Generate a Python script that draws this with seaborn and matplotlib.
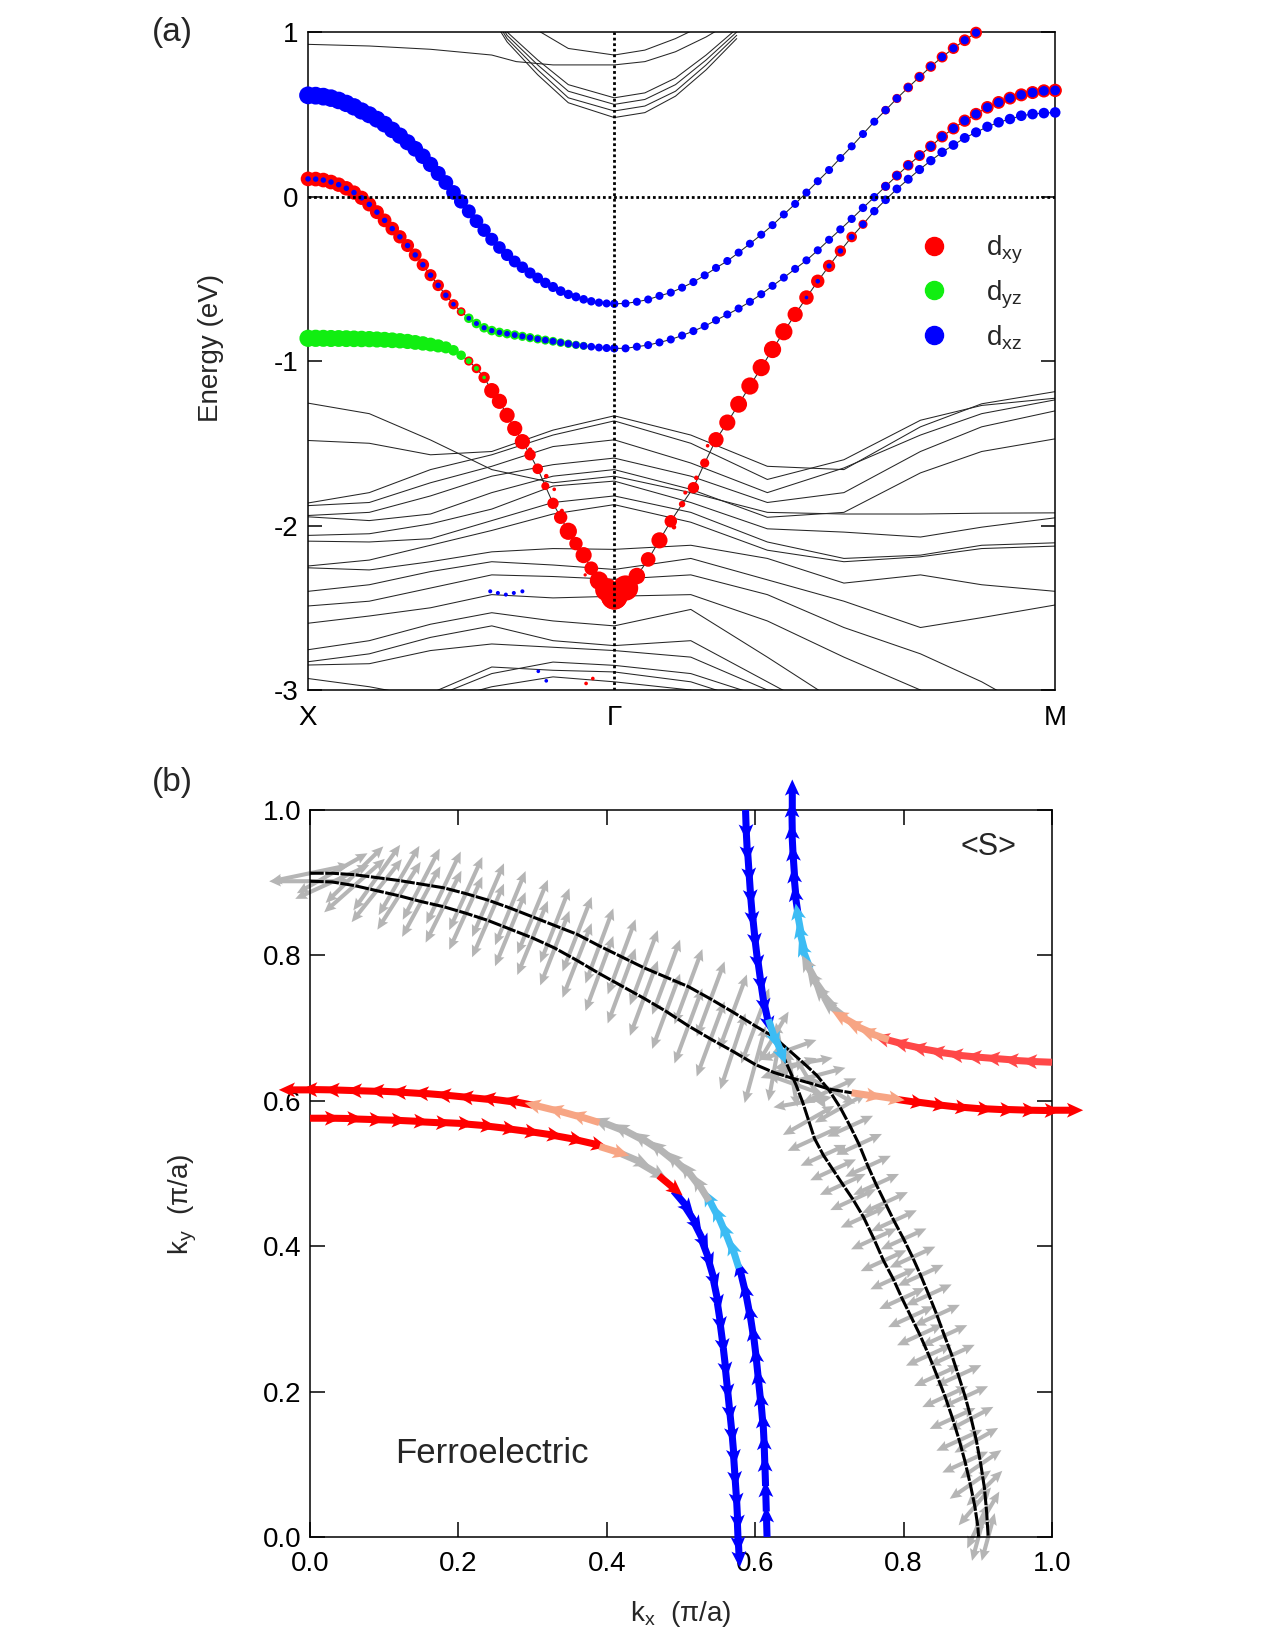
import matplotlib
matplotlib.use("Agg")
import matplotlib.pyplot as plt
from matplotlib.lines import Line2D
import numpy as np
import pandas as pd
import seaborn as sns

sns.set_style("ticks")
plt.rcParams["font.family"] = ["Liberation Sans", "DejaVu Sans"]
plt.rcParams["mathtext.fontset"] = "custom"
plt.rcParams["mathtext.rm"] = "Liberation Sans"
plt.rcParams["mathtext.it"] = "Liberation Sans"
plt.rcParams["axes.unicode_minus"] = False
plt.rcParams["axes.edgecolor"] = "black"
plt.rcParams["axes.linewidth"] = 1.1

# ---------------- panel (a): bands along X - Gamma - M ----------------
# path coordinate: X = 0, Gamma = 1, M = 2.44
K_XG = np.arange(41) / 40.0
K_GM = 1.0 + 1.44 * np.arange(40) / 39.0

# orbital-projected bands (energies in eV)
A_XG = [0.615, 0.613, 0.607, 0.598, 0.584, 0.566, 0.545, 0.520, 0.497, 0.470,
        0.440, 0.405, 0.370, 0.330, 0.290, 0.245, 0.195, 0.140, 0.085, 0.025,
        -0.030, -0.090, -0.150, -0.205, -0.260, -0.310, -0.355, -0.395, -0.430, -0.465,
        -0.495, -0.525, -0.550, -0.575, -0.595, -0.610, -0.625, -0.637, -0.645, -0.650, -0.652]
A_GM = [-0.652, -0.650, -0.640, -0.626, -0.604, -0.584, -0.554, -0.520, -0.479, -0.434,
        -0.392, -0.341, -0.287, -0.232, -0.174, -0.109, -0.045, 0.024, 0.093, 0.161,
        0.234, 0.305, 0.380, 0.455, 0.525, 0.596, 0.663, 0.727, 0.790, 0.848,
        0.901, 0.950, 0.996]
B_XG = [0.107, 0.106, 0.100, 0.088, 0.072, 0.050, 0.024, -0.008, -0.048, -0.095,
        -0.145, -0.195, -0.245, -0.298, -0.355, -0.415, -0.478, -0.540, -0.600, -0.655,
        -0.700, -0.740, -0.772, -0.798, -0.815, -0.826, -0.834, -0.842, -0.850, -0.858,
        -0.866, -0.873, -0.880, -0.888, -0.895, -0.902, -0.908, -0.913, -0.918, -0.921, -0.923]
B_GM = [-0.923, -0.923, -0.913, -0.903, -0.887, -0.869, -0.845, -0.818, -0.788, -0.752,
        -0.717, -0.681, -0.640, -0.594, -0.543, -0.493, -0.440, -0.388, -0.327, -0.263,
        -0.200, -0.136, -0.069, -0.004, 0.062, 0.127, 0.190, 0.249, 0.305, 0.364,
        0.414, 0.461, 0.501, 0.542, 0.572, 0.598, 0.618, 0.632, 0.642, 0.645]
C_XG = [-0.862, -0.862, -0.862, -0.863, -0.863, -0.864, -0.865, -0.866, -0.867, -0.869,
        -0.871, -0.874, -0.877, -0.881, -0.887, -0.893, -0.900, -0.908, -0.917, -0.935,
        -0.965, -1.000, -1.045, -1.100, -1.180, -1.245, -1.330, -1.410, -1.490, -1.570,
        -1.655, -1.760, -1.865, -1.950, -2.035, -2.110, -2.180, -2.260, -2.335, -2.390, -2.430]
C_GM = [-2.430, -2.380, -2.307, -2.206, -2.090, -1.974, -1.870, -1.770, -1.620, -1.478,
        -1.374, -1.263, -1.152, -1.040, -0.930, -0.822, -0.717, -0.614, -0.515, -0.422,
        -0.331, -0.246, -0.169, -0.089, -0.020, 0.046, 0.105, 0.164, 0.218, 0.269,
        0.313, 0.356, 0.390, 0.424, 0.451, 0.471, 0.491, 0.501, 0.507, 0.511]

# orbital weights
A_XG_xz = [0.97, 0.97, 0.97, 0.96, 0.96, 0.95, 0.95, 0.94, 0.93, 0.92,
           0.91, 0.90, 0.89, 0.88, 0.86, 0.85, 0.84, 0.82, 0.81, 0.80,
           0.78, 0.76, 0.75, 0.73, 0.71, 0.69, 0.67, 0.65, 0.63, 0.61,
           0.59, 0.57, 0.55, 0.53, 0.51, 0.49, 0.47, 0.46, 0.45, 0.44, 0.44]
A_GM_xz = [0.44] * 24 + [0.45] * 9
A_GM_xy = [0.0] * 24 + [0.47, 0.50, 0.53, 0.56, 0.58, 0.60, 0.62, 0.64, 0.65]
B_XG_xy = [0.80, 0.80, 0.80, 0.80, 0.79, 0.79, 0.78, 0.78, 0.77, 0.76,
           0.75, 0.74, 0.73, 0.71, 0.70, 0.68, 0.66, 0.63, 0.60, 0.56, 0.48] + [0.0] * 20
B_XG_yz = [0.0] * 20 + [0.30, 0.52, 0.52, 0.52, 0.52, 0.52, 0.51, 0.51, 0.50, 0.50,
                        0.49, 0.49, 0.48, 0.47, 0.46, 0.45, 0.44] + [0.0] * 4
B_XG_xz = [0.30] * 19 + [0.25, 0.0, 0.26, 0.27, 0.28, 0.29, 0.30, 0.31, 0.32, 0.33,
                         0.34, 0.35, 0.36, 0.37, 0.38, 0.39, 0.40, 0.41, 0.42, 0.43,
                         0.44, 0.44]
B_GM_xz = [0.44] * 20 + [0.45, 0.45, 0.46, 0.46, 0.47, 0.47, 0.48, 0.48, 0.49, 0.49,
                         0.50, 0.50, 0.51, 0.51, 0.52, 0.52, 0.52, 0.53, 0.53, 0.53]
B_GM_xy = [0.0] * 24 + [0.50, 0.55, 0.58, 0.60, 0.62, 0.64, 0.66, 0.67, 0.68, 0.69,
                        0.70, 0.70, 0.71, 0.71, 0.72, 0.73]
C_XG_yz = [0.94, 0.94, 0.93, 0.93, 0.92, 0.92, 0.91, 0.90, 0.89, 0.88,
           0.87, 0.86, 0.84, 0.83, 0.81, 0.79, 0.76, 0.72, 0.66, 0.58,
           0.52, 0.33, 0.27, 0.20] + [0.0] * 17
C_XG_xy = [0.0] * 21 + [0.50, 0.52, 0.62, 0.83, 0.83, 0.83, 0.83, 0.83, 0.62, 0.58,
                        0.44, 0.62, 0.73, 0.94, 0.73, 0.88, 0.75, 1.00, 1.25, 1.45]
C_GM_xy = [1.45, 1.38, 0.90, 0.80, 0.88, 0.68, 0.35, 0.62, 0.50, 0.83,
           0.88, 0.92, 0.94, 0.94, 0.94, 0.94, 0.83, 0.79, 0.73, 0.67,
           0.62, 0.58, 0.50] + [0.0] * 17
C_GM_xz = [0.0] * 17 + [0.20, 0.25, 0.28, 0.30, 0.33, 0.40, 0.46, 0.47, 0.48, 0.49,
                        0.50, 0.51, 0.52, 0.53, 0.54, 0.55, 0.56, 0.57, 0.57, 0.58,
                        0.58, 0.58, 0.58]

# small projected weight on other bands
EXTRA_K = [0.725, 0.778, 0.804, 0.829, 0.905, 0.908, 0.930, 1.195, 1.232, 1.268, 1.305,
           0.595, 0.620, 0.646, 0.672, 0.700, 0.752, 0.778]
EXTRA_E = [-1.539, -1.700, -1.780, -1.910, -2.300, -2.960, -2.930, -2.010, -1.800, -1.710, -1.515,
           -2.400, -2.410, -2.420, -2.410, -2.400, -2.886, -2.944]
EXTRA_ORB = ["xy"] * 11 + ["xz"] * 7
EXTRA_W = [0.25, 0.25, 0.20, 0.22, 0.18, 0.20, 0.20, 0.25, 0.22, 0.25, 0.20,
           0.22, 0.22, 0.22, 0.22, 0.22, 0.20, 0.20]

# other (unprojected) bands, given at path nodes
K_NODES = [0.0, 0.2, 0.4, 0.6, 0.8, 1.0, 1.25, 1.5, 1.75, 2.0, 2.2, 2.44]
LOW_BANDS = [
    [-1.256, -1.32, -1.48, -1.66, -1.74, -1.70, -1.80, -1.92, -1.93, -1.93, -1.925, -1.923],
    [-1.483, -1.50, -1.57, -1.55, -1.42, -1.333, -1.45, -1.64, -1.66, -1.40, -1.26, -1.186],
    [-1.863, -1.80, -1.66, -1.57, -1.45, -1.364, -1.50, -1.72, -1.60, -1.36, -1.27, -1.226],
    [-1.879, -1.86, -1.74, -1.64, -1.52, -1.479, -1.62, -1.80, -1.65, -1.45, -1.32, -1.236],
    [-1.939, -1.92, -1.82, -1.70, -1.63, -1.59, -1.70, -1.86, -1.80, -1.55, -1.40, -1.303],
    [-1.947, -1.97, -1.93, -1.80, -1.70, -1.66, -1.78, -1.95, -1.92, -1.68, -1.55, -1.473],
    [-2.060, -2.05, -1.99, -1.90, -1.76, -1.73, -1.86, -2.02, -2.04, -2.07, -2.01, -1.953],
    [-2.095, -2.10, -2.08, -1.97, -1.86, -1.82, -1.92, -2.10, -2.20, -2.18, -2.12, -2.105],
    [-2.246, -2.21, -2.12, -2.03, -1.93, -1.873, -1.98, -2.15, -2.22, -2.19, -2.14, -2.125],
    [-2.257, -2.27, -2.22, -2.16, -2.14, -2.145, -2.12, -2.20, -2.35, -2.30, -2.36, -2.400],
    [-2.400, -2.36, -2.28, -2.22, -2.24, -2.267, -2.20, -2.33, -2.46, -2.62, -2.56, -2.483],
    [-2.489, -2.46, -2.38, -2.30, -2.31, -2.327, -2.30, -2.42, -2.62, -2.78, -2.95, -3.20],
    [-2.594, -2.55, -2.50, -2.42, -2.44, -2.43, -2.42, -2.58, -2.80, -3.00, -3.20, -3.40],
    [-2.755, -2.70, -2.60, -2.53, -2.58, -2.61, -2.51, -2.80, -3.10, -3.30, -3.40, -3.40],
    [-2.828, -2.78, -2.68, -2.61, -2.70, -2.73, -2.70, -2.95, -3.20, -3.40, -3.40, -3.40],
    [-2.848, -2.84, -2.76, -2.72, -2.74, -2.76, -2.80, -3.00, -3.25, -3.40, -3.40, -3.40],
    [-2.930, -2.98, -3.05, -2.90, -2.83, -2.85, -2.90, -3.05, -3.30, -3.40, -3.40, -3.40],
    [-3.100, -3.10, -3.02, -2.86, -2.88, -2.89, -2.95, -3.10, -3.30, -3.40, -3.40, -3.40],
    [-3.200, -3.15, -3.08, -2.98, -2.92, -2.95, -3.00, -3.20, -3.40, -3.40, -3.40, -3.40],
]
K_TOP = [0.55, 0.65, 0.75, 0.85, 1.0, 1.1, 1.2, 1.3, 1.4]
TOP_BANDS = [
    [1.50, 1.20, 1.01, 0.90, 0.86, 0.89, 0.96, 1.05, 1.15],
    [1.35, 1.00, 0.83, 0.68, 0.60, 0.63, 0.72, 0.86, 1.02],
    [1.30, 0.98, 0.80, 0.64, 0.56, 0.59, 0.68, 0.83, 1.00],
    [1.27, 0.96, 0.77, 0.60, 0.52, 0.55, 0.64, 0.80, 0.98],
    [1.24, 0.94, 0.74, 0.57, 0.48, 0.51, 0.61, 0.77, 0.96],
]
K_FLAT = [0.0, 0.2, 0.4, 0.6, 0.68, 0.8, 0.9, 1.0, 1.1, 1.2, 1.3, 1.4]
E_FLAT = [0.925, 0.915, 0.895, 0.86, 0.82, 0.80, 0.80, 0.80, 0.82, 0.88, 0.97, 1.08]

# ---------------- panel (b): Fermi contours and spin texture ----------------
C1_KX = [0.000, 0.030, 0.060, 0.090, 0.120, 0.150, 0.180, 0.210, 0.240, 0.270,
         0.300, 0.330, 0.360, 0.390, 0.420, 0.445, 0.470, 0.490, 0.505, 0.518,
         0.528, 0.537, 0.544, 0.549, 0.553, 0.557, 0.560, 0.563, 0.566, 0.569,
         0.571, 0.573, 0.575, 0.576, 0.577]
C1_KY = [0.576, 0.576, 0.575, 0.574, 0.573, 0.571, 0.570, 0.568, 0.565, 0.561,
         0.557, 0.552, 0.546, 0.538, 0.527, 0.514, 0.497, 0.476, 0.455, 0.432,
         0.408, 0.381, 0.352, 0.322, 0.292, 0.260, 0.230, 0.200, 0.170, 0.140,
         0.110, 0.080, 0.050, 0.020, 0.000]
C1_COL = "r" * 13 + "sggr" + "b" * 18

C2_KX = [0.000, 0.030, 0.060, 0.090, 0.120, 0.150, 0.180, 0.210, 0.240, 0.270,
         0.300, 0.330, 0.360, 0.390, 0.420, 0.445, 0.470, 0.490, 0.510, 0.525,
         0.538, 0.550, 0.560, 0.569, 0.578, 0.586, 0.592, 0.597, 0.601, 0.604,
         0.607, 0.610, 0.612, 0.613, 0.614, 0.615, 0.616]
C2_KY = [0.615, 0.615, 0.614, 0.613, 0.612, 0.610, 0.608, 0.605, 0.602, 0.599,
         0.594, 0.587, 0.579, 0.570, 0.560, 0.548, 0.533, 0.518, 0.500, 0.482,
         0.462, 0.440, 0.418, 0.395, 0.370, 0.340, 0.310, 0.280, 0.250, 0.220,
         0.190, 0.160, 0.130, 0.100, 0.070, 0.035, 0.000]
C2_COL = "r" * 11 + "s" * 3 + "g" * 7 + "c" * 4 + "b" * 12

C3_KX = [0.000, 0.030, 0.060, 0.090, 0.120, 0.150, 0.180, 0.210, 0.240, 0.270,
         0.300, 0.330, 0.360, 0.390, 0.420, 0.450, 0.480, 0.510, 0.540, 0.570,
         0.600, 0.625, 0.650, 0.675, 0.700, 0.730, 0.760, 0.790, 0.820, 0.850,
         0.880, 0.910, 0.940, 0.970, 1.000]
C3_KY = [0.902, 0.901, 0.896, 0.889, 0.882, 0.874, 0.867, 0.858, 0.848, 0.836,
         0.824, 0.810, 0.793, 0.775, 0.758, 0.741, 0.723, 0.703, 0.685, 0.668,
         0.650, 0.639, 0.631, 0.624, 0.616, 0.611, 0.607, 0.602, 0.598, 0.594,
         0.591, 0.589, 0.588, 0.587, 0.587]
C3_COL = "g" * 25 + "s" * 2 + "r" * 8
C3_GRAY_ANG = [0, 25, 42, 52, 58, 62, 64, 66, 67, 68, 68, 69, 69, 70, 70, 70, 70, 70, 70, 72,
               75, 80, 100, 120, 150]
C3_GRAY_LEN = [0.055] * 21 + [0.04] * 4

C4_KX = [0.000, 0.030, 0.060, 0.090, 0.120, 0.150, 0.180, 0.210, 0.240, 0.270,
         0.300, 0.330, 0.360, 0.390, 0.420, 0.450, 0.480, 0.510, 0.540, 0.570,
         0.600, 0.625, 0.645, 0.665, 0.683, 0.700, 0.715, 0.728, 0.740, 0.752,
         0.763, 0.775, 0.787, 0.800, 0.812, 0.823, 0.834, 0.845, 0.855, 0.865,
         0.874, 0.883, 0.891, 0.898, 0.904, 0.909, 0.912, 0.914]
C4_KY = [0.913, 0.913, 0.911, 0.907, 0.903, 0.898, 0.893, 0.885, 0.876, 0.865,
         0.853, 0.841, 0.829, 0.813, 0.798, 0.783, 0.770, 0.757, 0.740, 0.722,
         0.703, 0.688, 0.670, 0.652, 0.635, 0.614, 0.590, 0.565, 0.540, 0.510,
         0.485, 0.460, 0.435, 0.410, 0.385, 0.360, 0.333, 0.305, 0.277, 0.250,
         0.222, 0.193, 0.163, 0.133, 0.100, 0.067, 0.033, 0.000]
C4_COL = "g" * 48
C4_GRAY_ANG = ([12, 30, 45, 55, 60, 63, 65, 66, 67, 68, 68, 69, 69, 70, 70, 70, 70, 70, 70, 70, 70]
               + [60, 20, 10, 15, 25, 30] + [25] * 15 + [28, 30, 35, 45, 60, 75])
C4_GRAY_LEN = [0.055] * 21 + [0.04] * 6 + [0.034] * 21

C5_KX = [0.587, 0.588, 0.590, 0.592, 0.594, 0.597, 0.600, 0.604, 0.608, 0.612,
         0.618, 0.626, 0.635, 0.645, 0.655, 0.664, 0.672, 0.680, 0.692, 0.705,
         0.718, 0.732, 0.746, 0.760, 0.773, 0.786, 0.798, 0.810, 0.822, 0.834,
         0.845, 0.856, 0.866, 0.875, 0.883, 0.890, 0.896, 0.900, 0.901]
C5_KY = [1.000, 0.970, 0.940, 0.910, 0.880, 0.850, 0.820, 0.790, 0.760, 0.735,
         0.712, 0.690, 0.668, 0.645, 0.622, 0.598, 0.573, 0.548, 0.525, 0.505,
         0.485, 0.464, 0.440, 0.410, 0.380, 0.355, 0.328, 0.303, 0.278, 0.250,
         0.222, 0.193, 0.163, 0.133, 0.103, 0.072, 0.042, 0.015, 0.000]
C5_COL = "b" * 10 + "c" * 2 + "g" * 27
C5_GRAY_ANG = [100, 20, 160, 10, 30, 25] + [25] * 17 + [35, 50, 65, 75]
C5_GRAY_LEN = [0.04] * 6 + [0.034] * 21

C6_KX = [0.650, 0.650, 0.651, 0.653, 0.655, 0.658, 0.662, 0.667, 0.674, 0.683,
         0.694, 0.707, 0.722, 0.740, 0.760, 0.780, 0.800, 0.825, 0.850, 0.875,
         0.900, 0.925, 0.950, 0.975, 1.000]
C6_KY = [1.000, 0.970, 0.940, 0.910, 0.880, 0.855, 0.830, 0.805, 0.782, 0.763,
         0.745, 0.728, 0.714, 0.702, 0.692, 0.684, 0.678, 0.672, 0.667, 0.663,
         0.660, 0.658, 0.656, 0.654, 0.653]
C6_COL = "b" * 6 + "c" * 3 + "g" * 4 + "s" * 3 + "R" * 9

SPIN_COLORS = {"r": "#ff0000", "R": "#ff4848", "b": "#0000ff", "c": "#3cbcf4",
               "s": "#f7a584", "g": "#b5b5b5"}
ORB_COLORS = {"xy": "#ff0000", "yz": "#11ee11", "xz": "#0000ff"}

# ====================================================================
fig = plt.figure(figsize=(12.75, 16.5), dpi=100)
ax1 = fig.add_axes([0.2416, 0.5818, 0.586, 0.3988])
ax2 = fig.add_axes([0.2431, 0.0685, 0.582, 0.4406])

# --- (a) thin bands
rows = []
for i, e in enumerate(LOW_BANDS):
    rows += [(f"low{i}", k, v) for k, v in zip(K_NODES, e)]
for i, e in enumerate(TOP_BANDS):
    rows += [(f"top{i}", k, v) for k, v in zip(K_TOP, e)]
rows += [("flat", k, v) for k, v in zip(K_FLAT, E_FLAT)]
rows += [("A", k, v) for k, v in zip(list(K_XG) + list(K_GM[1:len(A_GM)]), A_XG + A_GM[1:])]
rows += [("B", k, v) for k, v in zip(list(K_XG) + list(K_GM[1:]), B_XG + B_GM[1:])]
rows += [("C", k, v) for k, v in zip(list(K_XG) + list(K_GM[1:]), C_XG + C_GM[1:])]
band_df = pd.DataFrame(rows, columns=["band", "k", "E"])
sns.lineplot(data=band_df, x="k", y="E", units="band", estimator=None, sort=False,
             color="#262626", lw=0.75, ax=ax1, legend=False, zorder=1)

# --- (a) projected dots
parts = [
    (K_XG, A_XG, {"xz": A_XG_xz}),
    (K_GM[:len(A_GM)], A_GM, {"xy": A_GM_xy, "xz": A_GM_xz}),
    (K_XG, B_XG, {"xy": B_XG_xy, "yz": B_XG_yz, "xz": B_XG_xz}),
    (K_GM, B_GM, {"xy": B_GM_xy, "xz": B_GM_xz}),
    (K_XG, C_XG, {"xy": C_XG_xy, "yz": C_XG_yz}),
    (K_GM, C_GM, {"xy": C_GM_xy, "xz": C_GM_xz}),
]
drows = []
for k, e, ws in parts:
    for orb, w in ws.items():
        drows += list(zip(k, e, [orb] * len(e), w))
drows += list(zip(EXTRA_K, EXTRA_E, EXTRA_ORB, EXTRA_W))
dots = pd.DataFrame(drows, columns=["k", "E", "orb", "w"])
for z, orb in enumerate(["xy", "yz", "xz"]):
    sub = dots[(dots["orb"] == orb) & (dots["w"] > 0)]
    ax1.scatter(sub["k"], sub["E"], s=(13.2 * sub["w"]) ** 2, color=ORB_COLORS[orb],
                linewidths=0, zorder=3 + z, clip_on=False)

ax1.axhline(0, color="black", lw=2.0, ls=(0, (1, 1)), zorder=7)
ax1.axvline(1.0, color="black", lw=2.0, ls=(0, (1, 1)), zorder=7)
ax1.set_xlim(0, 2.44)
ax1.set_ylim(-3, 1)
ax1.set_yticks([-3, -2, -1, 0, 1])
ax1.set_yticklabels(["-3", "-2", "-1", "0", "1"])
ax1.set_xticks([0, 1.0, 2.44])
ax1.set_xticklabels(["X", "Γ", "M"])
ax1.tick_params(axis="y", direction="in", left=True, right=True, length=10, width=1.1,
                labelsize=20, pad=7, colors="black")
ax1.tick_params(axis="x", length=0, labelsize=20, pad=11, colors="black")
ax1.set_xlabel("")
ax1.set_ylabel("Energy (eV)", fontsize=20)
ax1.yaxis.set_label_coords(-0.112, 0.52)
for sp in ax1.spines.values():
    sp.set_visible(True)
    sp.set_linewidth(1.1)

handles = [Line2D([], [], marker="o", ls="", color=ORB_COLORS[o], markersize=13)
           for o in ["xy", "yz", "xz"]]
ax1.legend(handles, [r"$\mathregular{d_{xy}}$", r"$\mathregular{d_{yz}}$",
                     r"$\mathregular{d_{xz}}$"],
           loc="upper left", bbox_to_anchor=(0.80, 0.715), frameon=False,
           fontsize=20, handletextpad=1.4, labelspacing=0.45, borderpad=0,
           handlelength=1.0)

# --- (b) spin texture
contours = [
    (C1_KX, C1_KY, C1_COL, 1, None, None),
    (C2_KX, C2_KY, C2_COL, -1, None, None),
    (C3_KX, C3_KY, C3_COL, 1, C3_GRAY_ANG, C3_GRAY_LEN),
    (C4_KX, C4_KY, C4_COL, 1, C4_GRAY_ANG, C4_GRAY_LEN),
    (C5_KX, C5_KY, C5_COL, 1, C5_GRAY_ANG, C5_GRAY_LEN),
    (C6_KX, C6_KY, C6_COL, -1, None, None),
]
ARROW_LEN = 0.042
for kx, ky, col, sgn, gang, glen in contours:
    kx = np.asarray(kx)
    ky = np.asarray(ky)
    col = np.array(list(col))
    dx, dy = np.gradient(kx), np.gradient(ky)
    nrm = np.hypot(dx, dy)
    tx, ty = sgn * dx / nrm, sgn * dy / nrm
    # double-headed gray arrows
    if gang is not None:
        gi = np.where(col == "g")[0]
        a = np.deg2rad(gang)
        u = np.asarray(glen) * np.cos(a)
        v = np.asarray(glen) * np.sin(a)
        for s in (1, -1):
            ax2.quiver(kx[gi], ky[gi], s * u, s * v, color=SPIN_COLORS["g"], angles="xy",
                       scale_units="xy", scale=1, width=0.0055, headwidth=2.6,
                       headlength=2.9, headaxislength=2.6, zorder=2, clip_on=False)
    # black contour line
    ax2.plot(kx, ky, color="black", lw=2.2, ls=(0, (4.5, 0.5)), zorder=3)
    # tangential arrows
    for c in np.unique(col):
        if c == "g" and gang is not None:
            continue
        idx = np.where(col == c)[0]
        ax2.quiver(kx[idx], ky[idx], ARROW_LEN * tx[idx], ARROW_LEN * ty[idx],
                   color=SPIN_COLORS[c], angles="xy", scale_units="xy", scale=1,
                   width=0.0095, headwidth=2.1, headlength=2.3, headaxislength=2.0,
                   zorder=4, clip_on=False)

ax2.set_xlim(0, 1)
ax2.set_ylim(0, 1)
ticks = [0.0, 0.2, 0.4, 0.6, 0.8, 1.0]
ax2.set_xticks(ticks)
ax2.set_yticks(ticks)
ax2.set_xticklabels([f"{t:.1f}" for t in ticks])
ax2.set_yticklabels([f"{t:.1f}" for t in ticks])
ax2.tick_params(direction="in", top=True, right=True, bottom=True, left=True,
                length=10.5, width=1.1, labelsize=20, colors="black")
ax2.tick_params(axis="y", pad=6)
ax2.tick_params(axis="x", pad=10)
ax2.set_xlabel(r"$\mathregular{k_x}$  (π/a)", fontsize=20)
ax2.set_ylabel(r"$\mathregular{k_y}$  (π/a)", fontsize=20)
ax2.xaxis.set_label_coords(0.5, -0.085)
ax2.yaxis.set_label_coords(-0.15, 0.457)
ax2.text(0.914, 0.949, "<S>", ha="center", va="center", fontsize=22)
ax2.text(0.245, 0.1155, "Ferroelectric", ha="center", va="center", fontsize=25)
for sp in ax2.spines.values():
    sp.set_visible(True)
    sp.set_linewidth(1.1)

fig.text(0.135, 0.98, "(a)", ha="center", va="center", fontsize=24)
fig.text(0.135, 0.5255, "(b)", ha="center", va="center", fontsize=24)

fig.savefig("out.png", dpi=100)
